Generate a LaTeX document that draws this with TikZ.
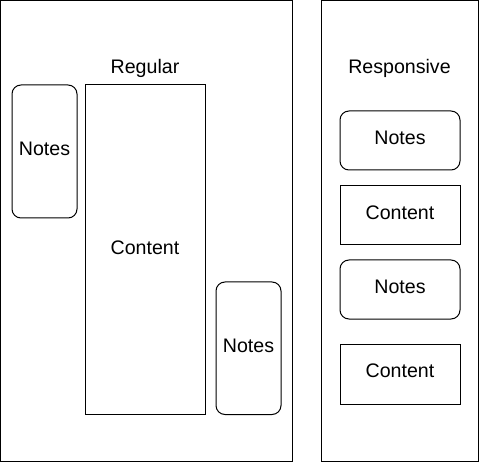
\documentclass[tikz,border=0pt]{standalone}
\usepackage{fontspec}
\setmainfont{Liberation Sans}
\begin{document}
\begin{tikzpicture}[x=1pt,y=-1pt,line width=1pt,
  panel/.style={draw=black,fill=white},
  notebox/.style={draw=black,rounded corners=9pt},
  contentbox/.style={draw=black},
  lbl/.style={font=\fontsize{19.6}{22}\selectfont,inner sep=0pt}]
\useasboundingbox (0,0) rectangle (479,462);
\fill[white] (0,0) rectangle (479,462);
% panels
\draw[panel] (0.5,0.5) rectangle (292,461.5);
\draw[panel] (321,0.5) rectangle (478.5,461.5);
\node[lbl] (regular) at (145,68) {Regular};
\node[lbl] (responsive) at (399.5,68) {Responsive};
% regular
\draw[notebox] (12,85) rectangle (77,218);
\node[lbl] (n1) at (44.5,148.5) {Notes};
\draw[contentbox] (85,85) rectangle (205,414.5);
\node[lbl] (c1) at (145,247.5) {Content};
\draw[notebox] (216,282) rectangle (281,414.5);
\node[lbl] (n2) at (248.5,346) {Notes};
% responsive
\draw[notebox] (340,111) rectangle (460,170);
\node[lbl] (n3) at (400,138) {Notes};
\draw[contentbox] (340,185.5) rectangle (460,245);
\node[lbl] (c2) at (400,213) {Content};
\draw[notebox] (340,260) rectangle (460,319);
\node[lbl] (n4) at (400,287) {Notes};
\draw[contentbox] (340,344) rectangle (460,404);
\node[lbl] (c3) at (400,371) {Content};
\end{tikzpicture}
\end{document}
